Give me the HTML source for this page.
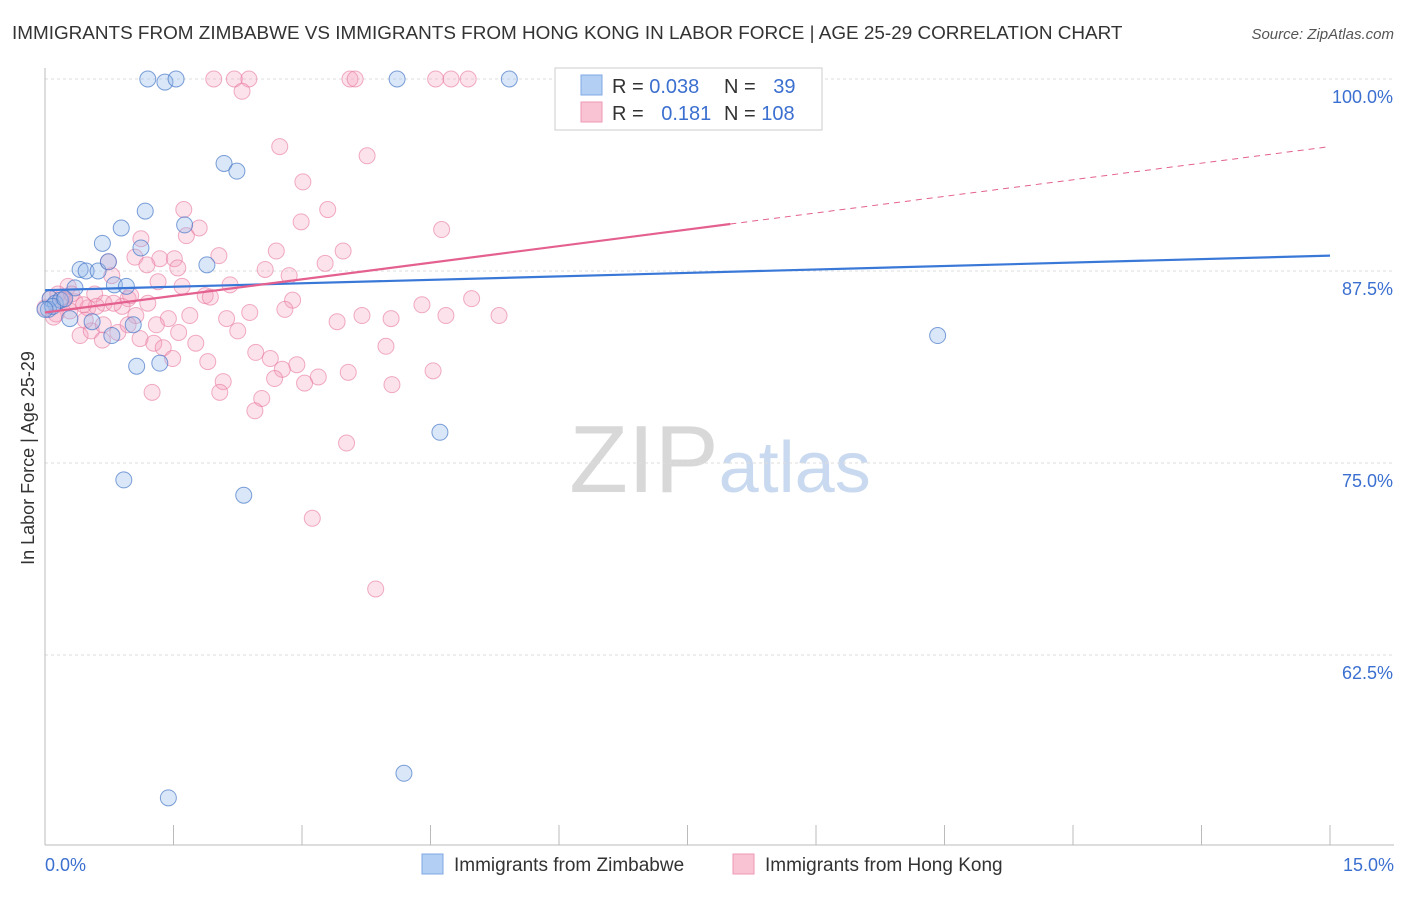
<!DOCTYPE html>
<html><head><meta charset="utf-8"><style>
body{margin:0;background:#fff;font-family:"Liberation Sans",sans-serif;}
svg text{font-family:"Liberation Sans",sans-serif;}
</style></head><body>
<svg id="chart" width="1406" height="892">
<text x="12" y="39" font-size="18.9" fill="#333">IMMIGRANTS FROM ZIMBABWE VS IMMIGRANTS FROM HONG KONG IN LABOR FORCE | AGE 25-29 CORRELATION CHART</text>
<text x="1394" y="39" font-size="15" fill="#555" text-anchor="end" font-style="italic">Source: ZipAtlas.com</text>
<text x="34" y="458" font-size="18" fill="#333" text-anchor="middle" transform="rotate(-90 34 458)">In Labor Force | Age 25-29</text>
<text x="720" y="492" font-size="96" fill="#d8d8d8" text-anchor="middle" font-family="Liberation Serif">ZIP<tspan fill="#c9d9ef" font-family="Liberation Sans" font-size="72">atlas</tspan></text>
<g id="grid"></g><g id="pts"></g><g id="lines"></g>
<g>
<rect x="555" y="68" width="267" height="62" fill="#fff" stroke="#ccc"/>
<rect x="581" y="75" width="21" height="20" fill="#b4cff4" stroke="#7fa8e6"/>
<rect x="581" y="102" width="21" height="20" fill="#f9c3d3" stroke="#ef9ab4"/>
<text x="612" y="93" font-size="20" fill="#333">R = <tspan fill="#3b6fd0">0.038</tspan></text>
<text x="724" y="93" font-size="20" fill="#333">N = <tspan fill="#3b6fd0" dx="12">39</tspan></text>
<text x="612" y="120" font-size="20" fill="#333">R = <tspan fill="#3b6fd0" dx="12">0.181</tspan></text>
<text x="724" y="120" font-size="20" fill="#333">N = <tspan fill="#3b6fd0">108</tspan></text>
</g>
<g>
<rect x="422" y="854" width="21" height="20" fill="#b4cff4" stroke="#7fa8e6"/>
<text x="454" y="871" font-size="19" fill="#333">Immigrants from Zimbabwe</text>
<rect x="733" y="854" width="21" height="20" fill="#f9c3d3" stroke="#ef9ab4"/>
<text x="765" y="871" font-size="19" fill="#333">Immigrants from Hong Kong</text>
</g>
</svg>
<script>
const yTicks=[100,87.5,75,62.5];
const yTickLabels=["100.0%","87.5%","75.0%","62.5%"];
const xTickLabels=["0.0%","15.0%"];
const blueX=[1.2,1.4,1.53,4.11,5.42,2.09,2.24,1.17,0.89,0.67,1.63,1.12,0.41,0.48,0.62,0.74,1.89,0.81,0.95,0.35,0.06,0.12,0.18,0.04,0.29,0.55,1.03,0.78,1.07,1.34,10.42,4.61,0.92,2.32,4.19,1.44,0.09,0.23,0.0];
const blueY=[100,99.8,100,100,100,94.5,94.0,91.4,90.3,89.3,90.5,89.0,87.6,87.5,87.5,88.1,87.9,86.6,86.5,86.4,85.7,85.4,85.6,85.0,84.4,84.2,84.0,83.3,81.3,81.5,83.3,77.0,73.9,72.9,54.8,53.2,85.2,85.7,85.0];
const pinkX=[1.97,2.21,2.38,3.56,3.62,4.56,4.74,4.94,6.22,2.3,2.74,3.76,3.01,1.62,3.3,2.99,4.63,1.65,1.8,1.12,2.03,2.7,3.48,1.34,1.51,1.05,0.74,1.55,1.19,2.57,3.27,2.85,0.78,2.16,1.6,1.32,0.58,0.27,0.97,1.2,1.87,1.93,2.89,4.4,4.98,0.06,0.15,0.22,0.35,0.5,0.69,0.9,1.06,1.44,1.69,2.12,2.39,3.41,4.04,4.68,5.3,0.41,0.54,0.68,0.85,1.11,1.27,1.38,1.56,1.76,2.25,2.46,2.63,2.94,2.77,1.49,1.9,3.98,4.53,3.54,3.19,2.68,3.03,4.05,2.08,1.25,2.04,2.53,2.45,3.52,3.12,3.86,0.67,0.97,0.47,0.0,0.13,0.29,0.8,0.2,0.31,0.6,1.0,1.3,2.8,3.7,0.1,0.45];
const pinkY=[100,100,100,100,100,100,100,100,100,99.2,95.6,95.0,93.3,91.5,91.5,90.7,90.2,89.8,90.3,89.6,88.5,88.8,88.8,88.3,88.3,88.4,88.1,87.7,87.9,87.6,88.0,87.2,87.2,86.6,86.5,86.8,86.0,86.5,85.7,85.4,85.9,85.8,85.6,85.3,85.7,85.7,86.0,85.6,85.5,85.1,85.4,85.2,84.6,84.4,84.6,84.4,84.8,84.2,84.4,84.6,84.6,83.3,83.6,84.0,83.5,83.1,82.8,82.5,83.5,82.8,83.6,82.2,81.8,81.4,81.1,81.8,81.6,82.6,81.0,80.9,80.6,80.5,80.2,80.1,80.3,79.6,79.6,79.2,78.4,76.3,71.4,66.8,83.0,84.0,84.3,85.1,84.7,84.9,85.4,85.8,86.0,85.2,85.9,84.0,85.0,84.6,84.5,85.3];
const blueLine=[86.25,88.5];
const pinkLine=[84.8,95.6];
const pinkSolidEnd=8.0;
const X=v=>45+v/15*1285, Y=v=>79+(100-v)*192/12.5;
const NS="http://www.w3.org/2000/svg";
function mk(tag,attrs,parent){const e=document.createElementNS(NS,tag);for(const k in attrs)e.setAttribute(k,attrs[k]);parent.appendChild(e);return e;}
const grid=document.getElementById('grid');
yTicks.forEach((t,i)=>{
 const l=mk('line',{x1:45,x2:1394,y1:Y(t),y2:Y(t),stroke:'#ddd','stroke-dasharray':'3,3'},grid);
 
 
 const tx=mk('text',{x:1393,y:Y(t)+24,'font-size':18,fill:'#3b6fd0','text-anchor':'end'},grid);
 tx.textContent=yTickLabels[i];
 
 
});
mk('line',{x1:45,x2:45,y1:68,y2:845,stroke:'#bbb'},grid);
mk('line',{x1:45,x2:1394,y1:845,y2:845,stroke:'#bbb'},grid);
for(let i=0;i<=10;i++){const t=mk('line',{x1:X(i*1.5),x2:X(i*1.5),y1:825,y2:845,stroke:'#bbb'},grid);
 
 }
[[0,'start',45],[15,'end',1394]].forEach((a,i)=>{const t=mk('text',{x:a[2],y:871,'font-size':18,fill:'#3b6fd0','text-anchor':a[1]},grid);t.textContent=xTickLabels[i];
 
 });
const pts=document.getElementById('pts');
pinkX.forEach((x,i)=>{const c=mk('circle',{cx:X(x),cy:Y(pinkY[i]),r:8,fill:'rgba(244,160,188,0.3)',stroke:'rgba(232,120,160,0.6)','stroke-width':1},pts);
 
 });
blueX.forEach((x,i)=>{const c=mk('circle',{cx:X(x),cy:Y(blueY[i]),r:8,fill:'rgba(150,185,235,0.35)',stroke:'rgba(70,120,200,0.7)','stroke-width':1},pts);
 
 });
const lines=document.getElementById('lines');
const bl=mk('line',{x1:X(0),y1:Y(blueLine[0]),x2:X(15),y2:Y(blueLine[1]),stroke:'#3a78d8','stroke-width':2.2},lines);


const py=v=>pinkLine[0]+(pinkLine[1]-pinkLine[0])*v/15;
const pl=mk('line',{x1:X(0),y1:Y(py(0)),x2:X(pinkSolidEnd),y2:Y(py(pinkSolidEnd)),stroke:'#e4608f','stroke-width':2.2},lines);


const pd=mk('line',{x1:X(pinkSolidEnd),y1:Y(py(pinkSolidEnd)),x2:X(15),y2:Y(py(15)),stroke:'#e4608f','stroke-width':1,'stroke-dasharray':'6,5'},lines);


</script>
</body></html>
